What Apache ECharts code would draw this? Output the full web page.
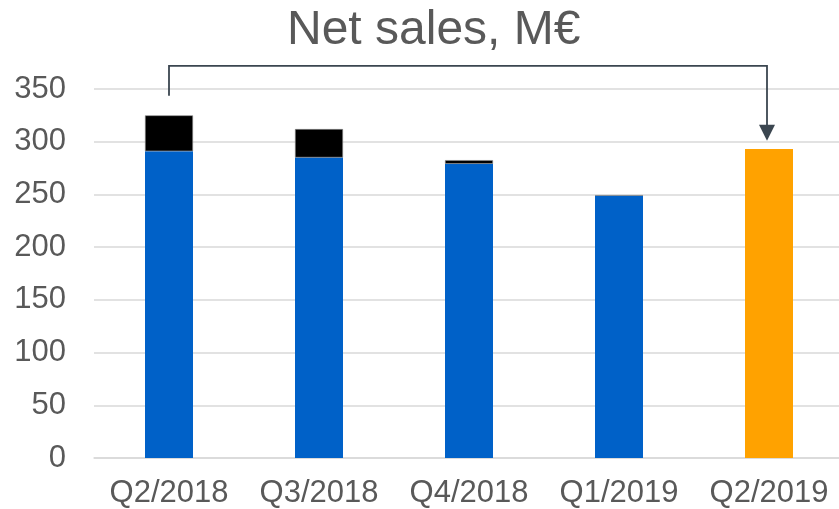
<!DOCTYPE html>
<html>
<head>
<meta charset="utf-8">
<script src="https://cdn.jsdelivr.net/npm/echarts@6/dist/echarts.min.js"></script>
<style>
  html, body { margin: 0; padding: 0; background: #fff; }
  #chart { width: 839px; height: 509px; }
</style>
</head>
<body>
<div id="chart"></div>
<script>
const quarters = ['Q2/2018', 'Q3/2018', 'Q4/2018', 'Q1/2019', 'Q2/2019']
const baseSales = [291, 285, 279, 249, '-']
const extraSales = [34, 27, 3.5, 0, '-']
const currentSales = ['-', '-', '-', '-', 293]
const yTicks = [0, 50, 100, 150, 200, 250, 300, 350]

// bracket arrow levels (value axis units)
const arrowFrom = 'Q2/2018'
const arrowTo = 'Q2/2019'
const arrowStartLevel = 343.5
const arrowTopLevel = 372
const arrowTipLevel = 301

const textColor = '#595959'
const fontFamily = 'Liberation Sans, Arial, sans-serif'

const chart = echarts.init(document.getElementById('chart'))

chart.setOption({
  animation: false,
  title: {
    text: 'Net sales, M€',
    left: 282,
    top: 2,
    textStyle: {
      color: textColor,
      fontFamily: fontFamily,
      fontSize: 48,
      fontWeight: 'normal'
    }
  },
  grid: {
    left: 94,
    width: 750,
    top: 89,
    bottom: 51,
    containLabel: false,
    outerBoundsMode: 'none'
  },
  xAxis: {
    type: 'category',
    data: quarters,
    axisTick: { show: false },
    axisLine: { lineStyle: { color: '#d9d9d9', width: 1.5 } },
    axisLabel: {
      interval: 0,
      color: textColor,
      fontFamily: fontFamily,
      fontSize: 31,
      margin: 20
    }
  },
  yAxis: {
    type: 'value',
    min: yTicks[0],
    max: yTicks[yTicks.length - 1],
    interval: 50,
    axisLine: { show: false },
    axisTick: { show: false },
    splitLine: { lineStyle: { color: '#d9d9d9', width: 1.5 } },
    axisLabel: {
      color: textColor,
      fontFamily: fontFamily,
      fontSize: 31,
      margin: 28
    }
  },
  series: [
    {
      type: 'bar',
      stack: 'sales',
      barWidth: 48,
      data: baseSales,
      itemStyle: { color: '#0061c8' }
    },
    {
      type: 'bar',
      stack: 'sales',
      barWidth: 48,
      data: extraSales,
      itemStyle: { color: '#000000', borderColor: '#8c8c8c', borderWidth: 0.6 }
    },
    {
      type: 'bar',
      stack: 'sales',
      barWidth: 48,
      data: currentSales,
      itemStyle: { color: '#ffa200' }
    }
  ]
})

const p0 = chart.convertToPixel({ gridIndex: 0 }, [arrowFrom, arrowStartLevel])
const p1 = chart.convertToPixel({ gridIndex: 0 }, [arrowFrom, arrowTopLevel])
const p2 = chart.convertToPixel({ gridIndex: 0 }, [arrowTo, arrowTopLevel])
const tip = chart.convertToPixel({ gridIndex: 0 }, [arrowTo, arrowTipLevel])
const headLen = 16
const headHalf = 8
const tipX = tip[0] - 2

chart.setOption({
  graphic: [
    {
      type: 'polyline',
      shape: { points: [[p0[0], p0[1]], [p1[0], p1[1]], [tipX, p2[1]], [tipX, tip[1] - headLen + 1]] },
      style: { stroke: '#3b4650', lineWidth: 1.8, fill: null }
    },
    {
      type: 'polygon',
      shape: { points: [[tipX - headHalf, tip[1] - headLen], [tipX + headHalf, tip[1] - headLen], [tipX, tip[1]]] },
      style: { fill: '#3b4650' }
    }
  ]
})

window.addEventListener('resize', () => {
  chart.resize()
})
</script>
</body>
</html>
